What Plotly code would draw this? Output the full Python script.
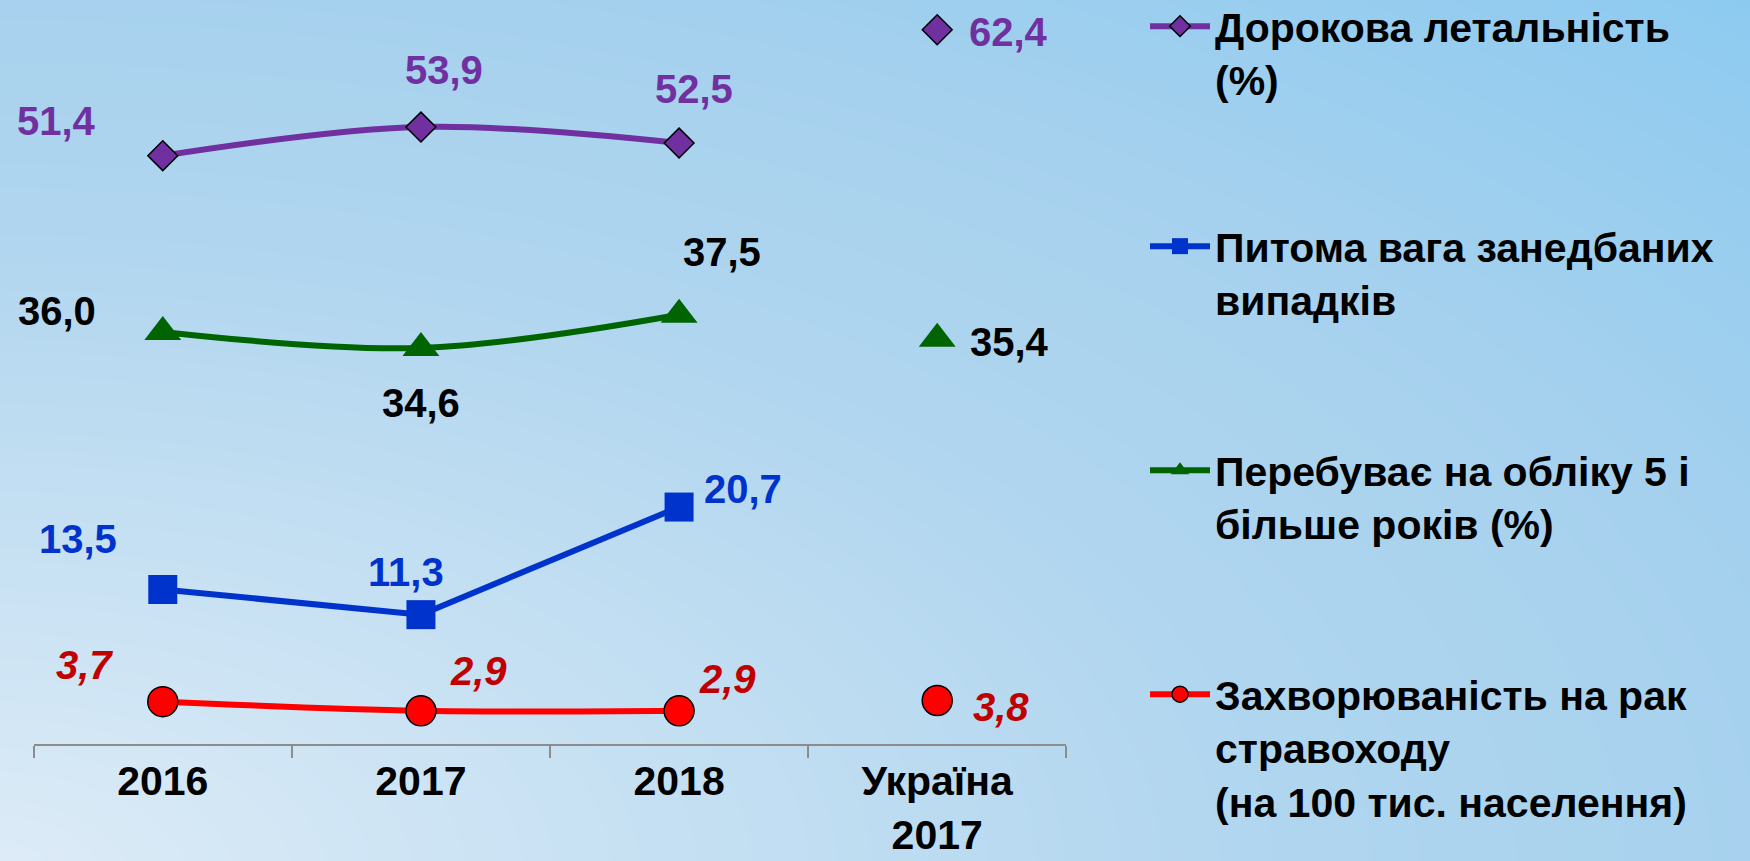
import numpy as np
import plotly.graph_objects as go

# ---- data ----
categories = ["2016", "2017", "2018", "Україна<br>2017"]
years = categories[:3]
ukraine = categories[3]

names = [
    "Дорокова летальність<br>(%)",
    "Питома вага занедбаних<br>випадків",
    "Перебуває на обліку 5 і<br>більше років (%)",
    "Захворюваність на рак<br>стравоходу<br>(на 100 тис. населення)",
]
lethality = [51.4, 53.9, 52.5]
lethality_ua = 62.4
neglected = [13.5, 11.3, 20.7]
registered5 = [36.0, 34.6, 37.5]
registered5_ua = 35.4
incidence = [3.7, 2.9, 2.9]
incidence_ua = 3.8

# ---- styles ----
FONT = "Liberation Sans, Arial, sans-serif"
W, H = 1750, 861
purple, blue, green, red = "#7030A0", "#0033CC", "#006400", "#FF0000"

fig = go.Figure()

# background gradient (radial from bottom-left)
gx = np.linspace(0, 1, 60)
gy = np.linspace(0, 1, 40)
GX, GY = np.meshgrid(gx, gy)
Z = np.sqrt(GX**2 + GY**2) / np.sqrt(2)
fig.add_trace(go.Heatmap(
    x=gx, y=gy, z=Z, zsmooth="best", showscale=False, hoverinfo="skip",
    zmin=0, zmax=1,
    colorscale=[[0, "rgb(222,236,247)"], [0.5, "rgb(177,214,239)"],
                [0.71, "rgb(166,209,238)"], [1, "rgb(140,202,240)"]],
    xaxis="x", yaxis="y", showlegend=False,
))

def fmt(v):
    return f"{v:.1f}".replace(".", ",")

series = [
    dict(name=names[0], y=lethality, ua=lethality_ua, color=purple,
         symbol="diamond", msize=23, mline=dict(color="black", width=1.5),
         shape="spline", legend="legend"),
    dict(name=names[1], y=neglected, ua=None, color=blue,
         symbol="square", msize=29, mline=dict(width=0),
         shape="linear", legend="legend2"),
    dict(name=names[2], y=registered5, ua=registered5_ua, color=green,
         symbol="triangle-up", msize=32, mline=dict(width=0),
         shape="spline", legend="legend3"),
    dict(name=names[3], y=incidence, ua=incidence_ua, color=red,
         symbol="circle", msize=30, mline=dict(color="black", width=1.5),
         shape="spline", legend="legend4"),
]

for s in series:
    fig.add_trace(go.Scatter(
        x=years, y=s["y"], name=s["name"], mode="lines+markers",
        line=dict(color=s["color"], width=6, shape=s["shape"]),
        marker=dict(symbol=s["symbol"], size=s["msize"], color=s["color"], line=s["mline"]),
        xaxis="x2", yaxis="y2", cliponaxis=False, legend=s["legend"],
    ))
    if s["ua"] is not None:
        fig.add_trace(go.Scatter(
            x=[ukraine], y=[s["ua"]], mode="markers", showlegend=False,
            marker=dict(symbol=s["symbol"], size=s["msize"], color=s["color"], line=s["mline"]),
            xaxis="x2", yaxis="y2", cliponaxis=False,
        ))

# data labels: offsets in pixels (dx, dy up)
label_specs = [
    (lethality + [lethality_ua], years + [ukraine], purple, "normal",
     [(-106, 35), (23, 57), (15, 54), (71, -2)]),
    (registered5 + [registered5_ua], years + [ukraine], "black", "normal",
     [(-106, 21), (0, -55), (43, 63), (72, -3)]),
    (neglected, years, blue, "normal",
     [(-85, 50), (-15, 43), (64, 18)]),
    (incidence + [incidence_ua], years + [ukraine], "#C00000", "italic",
     [(-78, 37), (58, 40), (48, 32), (64, -6)]),
]
annotations = []
for vals, xs, col, style, offs in label_specs:
    for v, xv, (dx, dy) in zip(vals, xs, offs):
        annotations.append(dict(
            x=categories.index(xv), y=v, xref="x2", yref="y2", text=fmt(v),
            showarrow=False, xshift=dx, yshift=dy,
            font=dict(family=FONT, size=40, color=col, weight="bold", style=style),
        ))

x0, x1 = 33.7, 1066.3
y_zero, y_top = 744, 0

legend_common = dict(
    xanchor="left", yanchor="top", bgcolor="rgba(0,0,0,0)",
    font=dict(family=FONT, size=41, color="black", weight="bold"),
    itemwidth=60, valign="top", itemsizing="trace",
)
lx = 1145 / W
legend_tops = [-7, 213, 437, 661]

fig.update_layout(
    width=W, height=H,
    margin=dict(l=0, r=0, t=0, b=0, autoexpand=False),
    paper_bgcolor="rgb(180,214,239)",
    plot_bgcolor="rgba(0,0,0,0)",
    xaxis=dict(domain=[0, 1], range=[0.015, 0.985], visible=False, fixedrange=True),
    yaxis=dict(domain=[0, 1], range=[0.015, 0.985], visible=False, fixedrange=True),
    xaxis2=dict(
        domain=[x0 / W, x1 / W], anchor="y2", type="category",
        categoryorder="array", categoryarray=categories, range=[-0.5, 3.5],
        tickson="boundaries", ticks="outside", ticklen=12, tickwidth=2,
        tickcolor="#8C8C8C", showline=True, linecolor="#8C8C8C", linewidth=2,
        showgrid=False, zeroline=False, ticklabelstandoff=0, automargin=False,
        tickfont=dict(family=FONT, size=41, color="black", weight="bold"),
    ),
    yaxis2=dict(
        domain=[1 - y_zero / H, 1 - y_top / H], anchor="x2", range=[0, 65],
        visible=False, showgrid=False, zeroline=False, automargin=False,
    ),
    annotations=annotations,
    legend=dict(x=lx, y=1 - legend_tops[0] / H, **legend_common),
    legend2=dict(x=lx, y=1 - legend_tops[1] / H, **legend_common),
    legend3=dict(x=lx, y=1 - legend_tops[2] / H, **legend_common),
    legend4=dict(x=lx, y=1 - legend_tops[3] / H, **legend_common),
    showlegend=True,
)

fig.write_html(
    "out.html",
    config={"displayModeBar": False},
    post_script="document.body.style.margin='0';document.body.style.overflow='hidden';",
)
